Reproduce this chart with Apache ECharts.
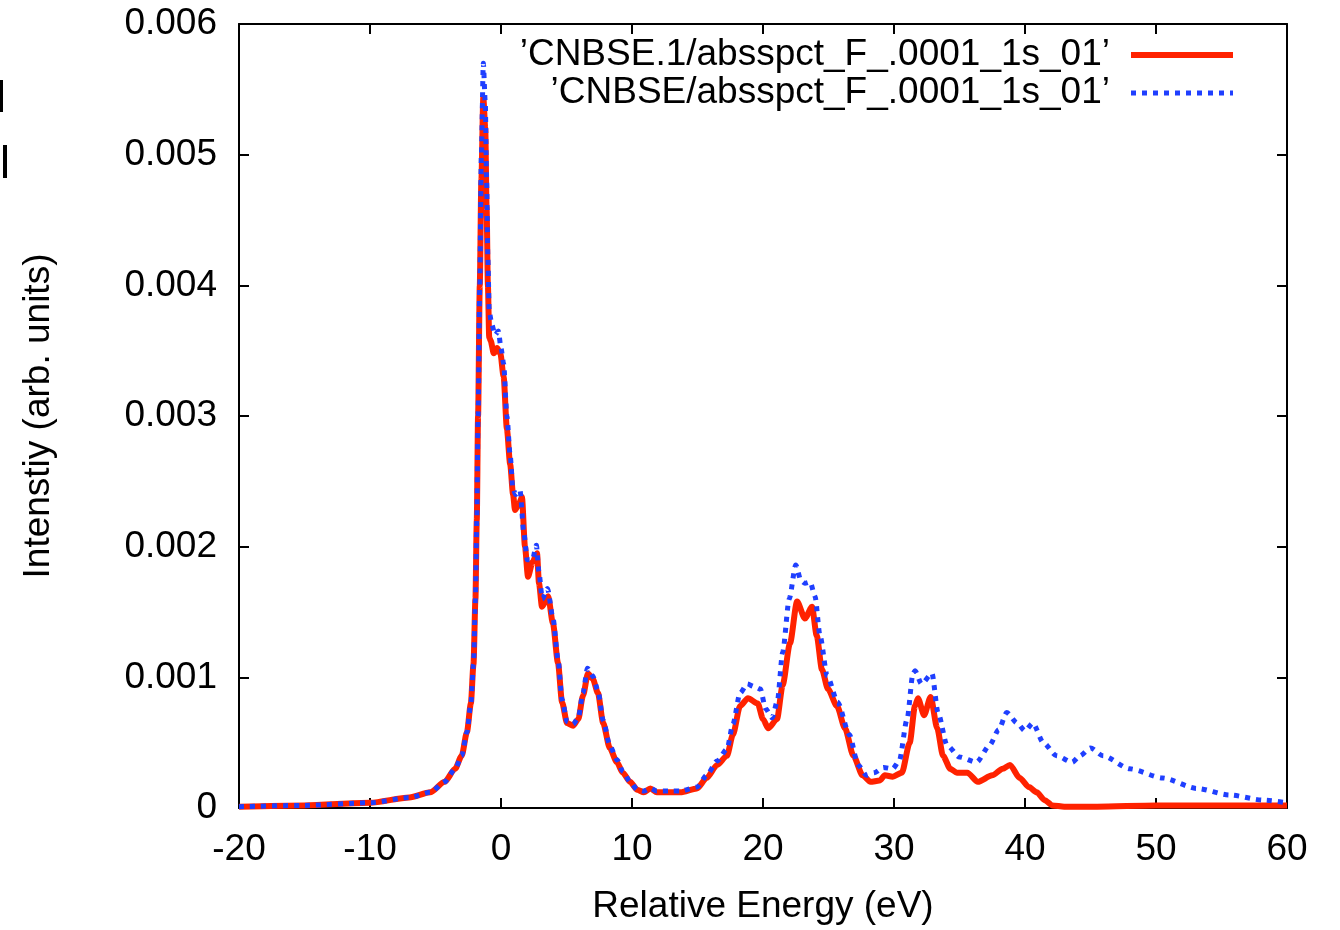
<!DOCTYPE html>
<html>
<head>
<meta charset="utf-8">
<title>CNBSE spectra</title>
<script src="https://cdn.jsdelivr.net/npm/echarts@6/dist/echarts.min.js"></script>
<style>
  html, body { margin: 0; padding: 0; background: #fff; }
  #chart { width: 1340px; height: 930px; }
</style>
</head>
<body>
<div id="chart"></div>
<script>
// values
var seriesNames = ["\u2019CNBSE.1/absspct_F_.0001_1s_01\u2019", "\u2019CNBSE/absspct_F_.0001_1s_01\u2019"];

var redEnergy = [-20, -15, -10, -7, -5.4, -4.3, -3.5, -3.0, -2.6, -2.3, -2.1, -1.95, -1.85, -1.75, -1.62, -1.5, -1.35, -1.2, -1.1, -1.0, -0.9,
  -0.8, -0.55, -0.3, -0.05, 0.2, 0.45, 0.7, 0.92, 1.07, 1.35, 1.6, 1.83, 2.06, 2.4, 2.75, 2.9, 3.13, 3.6, 3.97, 4.35, 4.66, 5.04, 5.5, 5.9,
  6.26, 6.64, 7.0, 7.4, 7.8, 8.3, 8.85, 9.3, 9.85, 10.4, 10.9, 11.4, 11.9, 12.9, 13.7, 14.96, 15.7, 16.5, 17.25, 17.7, 18.25, 18.85, 19.6,
  20.0, 20.4, 21.07, 21.5, 22.06, 22.6, 23.2, 23.74, 24.1, 24.5, 24.96, 25.65, 26.26, 26.9, 27.6, 28.2, 28.9, 29.3, 29.9, 30.6, 31.2, 31.6,
  31.83, 32.3, 32.8, 33.3, 33.74, 34.3, 34.8, 35.6, 36.4, 37.5, 38.3, 38.85, 39.6, 40.3, 40.9, 41.5, 42.1, 43, 45.5, 50, 55, 60];
var redIntensity = [0.00001, 0.00002, 0.00004, 0.00008, 0.00012, 0.0002, 0.0003, 0.0004, 0.00058, 0.0008, 0.0011, 0.0016, 0.0022, 0.003, 0.004, 0.0048, 0.00544, 0.0052, 0.0046, 0.004, 0.0036,
  0.00358, 0.00348, 0.00352, 0.00348, 0.0033, 0.0029, 0.00263, 0.0024, 0.00228, 0.00232, 0.00238, 0.002, 0.00177, 0.00188, 0.00195, 0.00172, 0.00154, 0.00162, 0.00141, 0.00111, 0.00081, 0.00065, 0.00063, 0.00068,
  0.00086, 0.00103, 0.00099, 0.00088, 0.00065, 0.00046, 0.00035, 0.00027, 0.0002, 0.00014, 0.00012, 0.00015, 0.00012, 0.00012, 0.00012, 0.00015, 0.00023, 0.00033, 0.0004, 0.00056, 0.00078, 0.00084, 0.0008,
  0.00068, 0.00061, 0.00068, 0.00094, 0.00126, 0.00158, 0.00145, 0.00154, 0.00132, 0.00106, 0.00091, 0.00078, 0.00061, 0.0004, 0.00025, 0.0002, 0.00021, 0.00025, 0.00024, 0.00027, 0.0005, 0.00078,
  0.00084, 0.00071, 0.00085, 0.00061, 0.0004, 0.0003, 0.00027, 0.00027, 0.0002, 0.00025, 0.0003, 0.00033, 0.00023, 0.00016, 0.00012, 0.00006, 0.00002, 0.00001, 0.00001, 0.00002, 0.00002, 0.00002];

var blueEnergy = [-20, -15, -10, -7, -5.4, -4.3, -3.5, -3.0, -2.6, -2.3, -2.1, -1.95, -1.85, -1.75, -1.62, -1.5, -1.35, -1.2, -1.1, -1.0, -0.9,
  -0.7, -0.45, -0.2, 0.0, 0.2, 0.45, 0.7, 0.9, 1.1, 1.45, 1.75, 2.0, 2.4, 2.7, 2.9, 3.15, 3.55, 3.97, 4.35, 4.66, 5.04, 5.5, 5.9,
  6.26, 6.6, 7.0, 7.4, 7.8, 8.3, 8.85, 9.3, 9.85, 10.4, 10.9, 11.4, 11.9, 12.9, 13.7, 14.96, 15.7, 16.5, 17.25, 17.7, 18.25, 18.8, 19.3, 19.8,
  20.2, 20.7, 21.1, 21.5, 22.0, 22.5, 22.9, 23.2, 23.6, 23.97, 24.35, 24.9, 25.7, 26.6, 27.25, 27.9, 28.5, 29.2, 29.9, 30.4, 31.0, 31.45,
  31.6, 32.1, 32.9, 33.36, 34.05, 35.0, 36.3, 37.3, 38.0, 38.6, 39.4, 40.0, 40.6, 41.4, 42.4, 43.6, 44.2, 45.0, 45.95, 48.0, 50.5, 53.1, 55.6, 58.2, 60];
var blueIntensity = [0.00001, 0.00002, 0.00004, 0.00008, 0.00012, 0.0002, 0.0003, 0.0004, 0.00058, 0.0008, 0.0011, 0.0016, 0.0022, 0.003, 0.004, 0.005, 0.0057, 0.0054, 0.0048, 0.0042, 0.0038,
  0.0037, 0.00362, 0.00365, 0.00352, 0.0034, 0.003, 0.0027, 0.00245, 0.0024, 0.00243, 0.0021, 0.0019, 0.0019, 0.00201, 0.0018, 0.0016, 0.00168, 0.00145, 0.00114, 0.00083, 0.00066, 0.00064, 0.00069,
  0.00088, 0.00107, 0.00101, 0.0009, 0.00067, 0.00048, 0.00037, 0.00028, 0.0002, 0.00014, 0.00013, 0.00015, 0.00013, 0.00013, 0.00013, 0.00016, 0.00025, 0.00036, 0.00045, 0.00064, 0.00088, 0.00095, 0.00093, 0.00091,
  0.00076, 0.00069, 0.00082, 0.00119, 0.0016, 0.00186, 0.00174, 0.00172, 0.00173, 0.00162, 0.00132, 0.00101, 0.00081, 0.00056, 0.00033, 0.00025, 0.00027, 0.00031, 0.0003, 0.00036, 0.00068, 0.00103,
  0.00105, 0.00095, 0.00103, 0.00073, 0.00048, 0.00039, 0.00035, 0.00048, 0.0006, 0.00073, 0.00065, 0.00059, 0.00065, 0.0005, 0.0004, 0.00035, 0.0004, 0.00046, 0.0004, 0.0003, 0.00023, 0.00015, 0.0001, 0.00006, 0.00004];

function zip(xs, ys) {
  var out = [];
  for (var i = 0; i < xs.length; i++) out.push([xs[i], ys[i]]);
  return out;
}

var font = "Liberation Sans";
var red = '#ff2200', blue = '#1f3fff';
var frame = {onZero: false, lineStyle: {color: '#000', width: 2}};
var tick = {show: true, inside: true, length: 10, lineStyle: {color: '#000', width: 2}};

var chart = echarts.init(document.getElementById('chart'), null, {renderer: 'canvas'});

var option = {
  animation: false,
  backgroundColor: '#fff',
  textStyle: {fontFamily: font},
  grid: {left: 239, right: 53, top: 24, bottom: 117, containLabel: false},
  legend: {
    orient: 'vertical',
    align: 'right',
    right: 99,
    top: 31,
    itemWidth: 102,
    itemHeight: 14,
    itemGap: 0,
    itemStyle: {opacity: 0},
    textStyle: {fontFamily: font, fontSize: 37, lineHeight: 38, color: '#000', padding: [0, 16, 0, 0]},
    data: [
      {name: seriesNames[0], lineStyle: {color: red, width: 6}},
      {name: seriesNames[1], lineStyle: {color: blue, width: 5, type: [5, 6]}}
    ]
  },
  xAxis: [
    {
      type: 'value', min: -20, max: 60, interval: 10,
      name: 'Relative Energy (eV)', nameLocation: 'middle', nameGap: 80,
      nameTextStyle: {fontFamily: font, fontSize: 37, color: '#000'},
      axisLine: frame, axisTick: tick,
      axisLabel: {fontFamily: font, fontSize: 37, color: '#000', margin: 23},
      splitLine: {show: false}
    },
    {
      type: 'value', position: 'top', min: -20, max: 60, interval: 10,
      axisLine: frame, axisTick: tick, axisLabel: {show: false}, splitLine: {show: false}
    }
  ],
  yAxis: [
    {
      type: 'value', min: 0, max: 0.006, interval: 0.001,
      name: 'Intenstiy (arb. units)', nameLocation: 'middle', nameGap: 182,
      nameTextStyle: {fontFamily: font, fontSize: 37, color: '#000'},
      axisLine: frame, axisTick: tick,
      axisLabel: {fontFamily: font, fontSize: 37, color: '#000', margin: 22},
      splitLine: {show: false}
    },
    {
      type: 'value', position: 'right', min: 0, max: 0.006, interval: 0.001,
      axisLine: frame, axisTick: tick, axisLabel: {show: false}, splitLine: {show: false}
    }
  ],
  series: [
    {
      name: seriesNames[0], type: 'line', data: zip(redEnergy, redIntensity),
      symbol: 'none', showSymbol: false, smooth: 0.25, smoothMonotone: 'x',
      lineStyle: {color: red, width: 6},
      itemStyle: {color: red}
    },
    {
      name: seriesNames[1], type: 'line', data: zip(blueEnergy, blueIntensity),
      symbol: 'none', showSymbol: false, smooth: 0.25, smoothMonotone: 'x',
      lineStyle: {color: blue, width: 5, type: [5, 6]},
      itemStyle: {color: blue}
    }
  ],
  graphic: [
    {type: 'rect', shape: {x: 0, y: 80, width: 3, height: 32}, style: {fill: '#000'}},
    {type: 'rect', shape: {x: 3, y: 145, width: 4, height: 33}, style: {fill: '#000'}}
  ]
};

chart.setOption(option);
</script>
</body>
</html>
